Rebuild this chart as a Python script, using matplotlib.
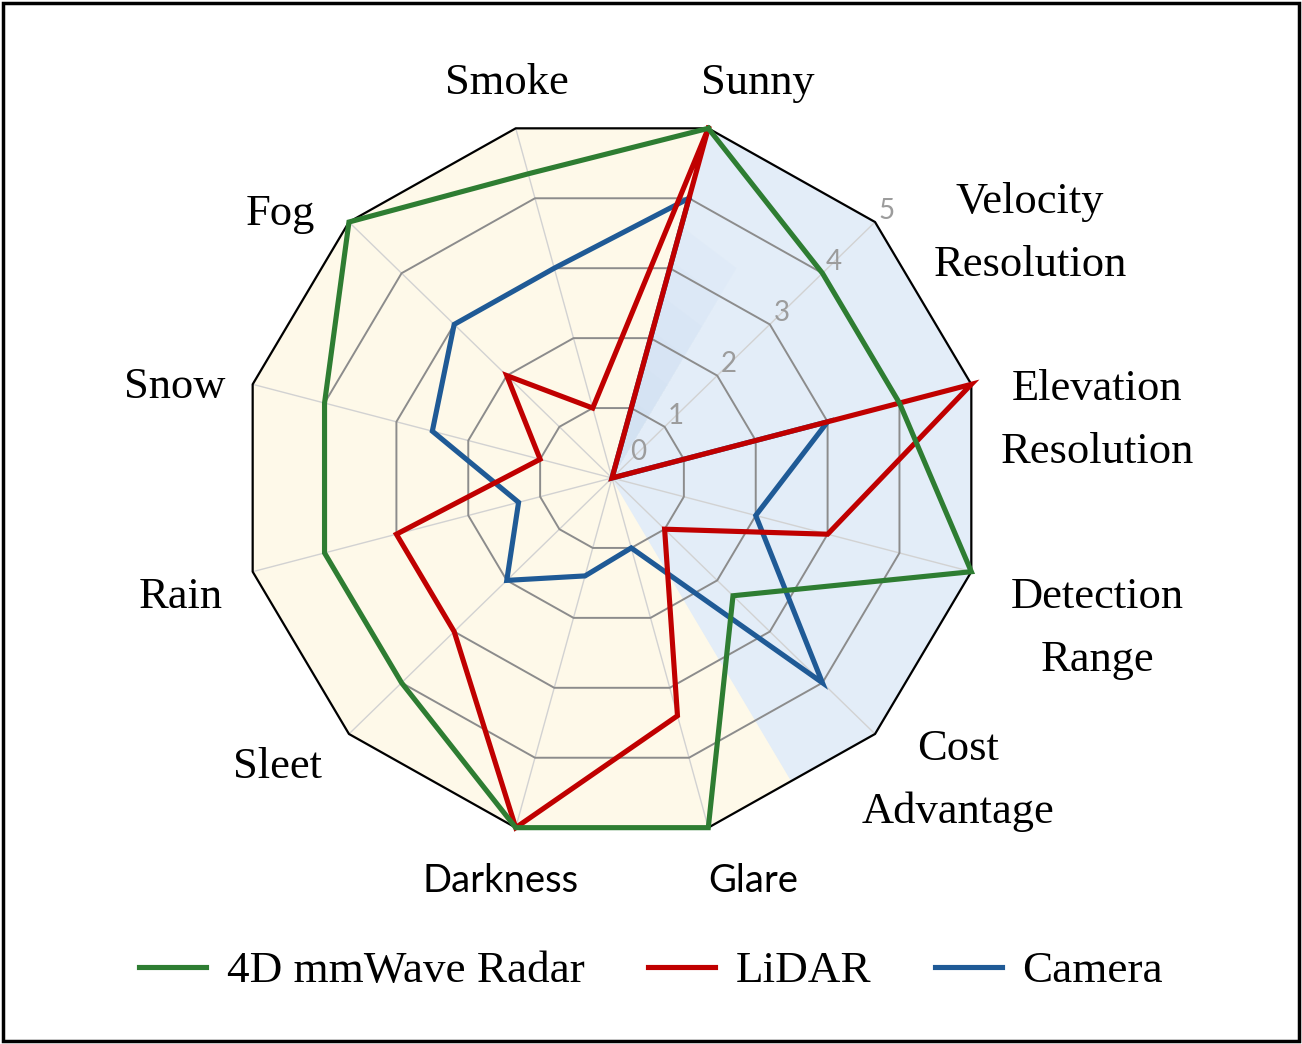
import numpy as np
import matplotlib.pyplot as plt
from matplotlib.patches import Rectangle

# categories clockwise, starting at Sunny (15 deg right of north)
categories = ['Sunny', 'Velocity\nResolution', 'Elevation\nResolution', 'Detection\nRange',
              'Cost\nAdvantage', 'Glare', 'Darkness', 'Sleet', 'Rain', 'Snow', 'Fog', 'Smoke']
radar = [5, 4, 4, 5, 2.3, 5, 5, 4, 4, 4, 5, 4.35]
lidar = [5, 0, 5, 3, 1, 3.4, 5, 3, 3, 1, 2, 1]
camera = [4, 0, 3, 2, 4, 1, 1.4, 2, 1.3, 2.5, 3, 3]
series_names = ['4D mmWave Radar', 'LiDAR', 'Camera']
ticks = [0, 1, 2, 3, 4, 5]

green = '#2E7D32'
red = '#C00000'
blue = '#1F5A96'

n = len(categories)
theta = np.deg2rad(15 + 30 * np.arange(n))
theta_c = np.append(theta, theta[0])
rmax = ticks[-1]

fig = plt.figure(figsize=(13.02, 10.44), dpi=100)
ax = fig.add_axes([240 / 1302, 204 / 1044, 744 / 1302, 724 / 1044], projection='polar')
ax.set_aspect('auto')
ax.set_theta_zero_location('N')
ax.set_theta_direction(-1)
ax.set_ylim(0, rmax)
ax.set_xticks([])
ax.set_yticks([])
ax.grid(False)
ax.spines['polar'].set_visible(False)
ax.set_facecolor('none')

# background: yellow 12-gon, blue wedge on the sensor-spec side
ax.fill(theta_c, [rmax] * (n + 1), color='#FEF9E9', zorder=0, clip_on=False)
edge_r = rmax * np.cos(np.deg2rad(15))
wedge_t = np.concatenate([[0], theta[:5], [np.deg2rad(150)], [0]])
wedge_r = np.concatenate([[0], [rmax] * 5, [edge_r], [0]])
ax.fill(wedge_t, wedge_r, color='#E3EDF8', zorder=0.5, clip_on=False)
# soft darker shading next to the Sunny spoke
for k in range(6):
    rr = 3.6 - 0.5 * k
    ax.fill([0, theta[0], np.deg2rad(30), 0], [0, rr, rr * 0.93, 0],
            color='#C9DCF2', alpha=0.12, lw=0, zorder=0.6)

# spokes and rings
for t in theta:
    ax.plot([t, t], [0, rmax], color='#D2D2D2', lw=1.0, zorder=1, clip_on=False)
for r in ticks[1:-1]:
    ax.plot(theta_c, [r] * (n + 1), color='#8C8C8C', lw=1.4, zorder=1.2)
ax.plot(theta_c, [rmax] * (n + 1), color='black', lw=1.6, zorder=1.3, clip_on=False)

# radial tick labels along the velocity axis
for v in ticks:
    ax.text(np.deg2rad(45), max(v + 0.22, 0.5), str(v), color='#9C9C9C', fontsize=20,
            family='Lato', ha='center', va='center', zorder=2)

# series
ax.plot(theta_c, camera + camera[:1], color=blue, lw=3.7, zorder=3,
        solid_joinstyle='miter', clip_on=False, label=series_names[2])
ax.plot(theta_c, lidar + lidar[:1], color=red, lw=3.7, zorder=4,
        solid_joinstyle='miter', clip_on=False, label=series_names[1])
ax.plot(theta_c, radar + radar[:1], color=green, lw=3.7, zorder=5,
        solid_joinstyle='miter', clip_on=False, label=series_names[0])

# category labels (x center, baseline y in pixels from top)
label_pos = {
    'Sunny': (758, 94), 'Velocity\nResolution': (1030, 213), 'Elevation\nResolution': (1097, 400),
    'Detection\nRange': (1097, 608), 'Cost\nAdvantage': (958, 760), 'Glare': (753, 892),
    'Darkness': (501, 892), 'Sleet': (277, 778), 'Rain': (181, 608), 'Snow': (175, 398),
    'Fog': (280, 225), 'Smoke': (507, 94),
}
for cat in categories:
    x, y = label_pos[cat]
    sans = cat in ('Glare', 'Darkness')
    for k, line in enumerate(cat.split('\n')):
        fig.text(x / 1302, 1 - (y + 63 * k) / 1044, line, ha='center', va='baseline',
                 fontsize=27.5 if sans else 32,
                 family='Lato' if sans else 'Liberation Serif', color='black')

# legend
handles, labels = ax.get_legend_handles_labels()
fig.legend(handles[::-1], labels[::-1], loc='center', bbox_to_anchor=(0.5, 1 - 971 / 1044),
           ncol=3, frameon=False, prop={'family': 'Liberation Serif', 'size': 32.5},
           handlelength=1.5, handletextpad=0.45, columnspacing=1.4)

fig.patches.append(Rectangle((0.002, 0.003), 0.996, 0.994, transform=fig.transFigure,
                             fill=False, edgecolor='black', lw=2.5))

fig.savefig('out.png', dpi=100)
